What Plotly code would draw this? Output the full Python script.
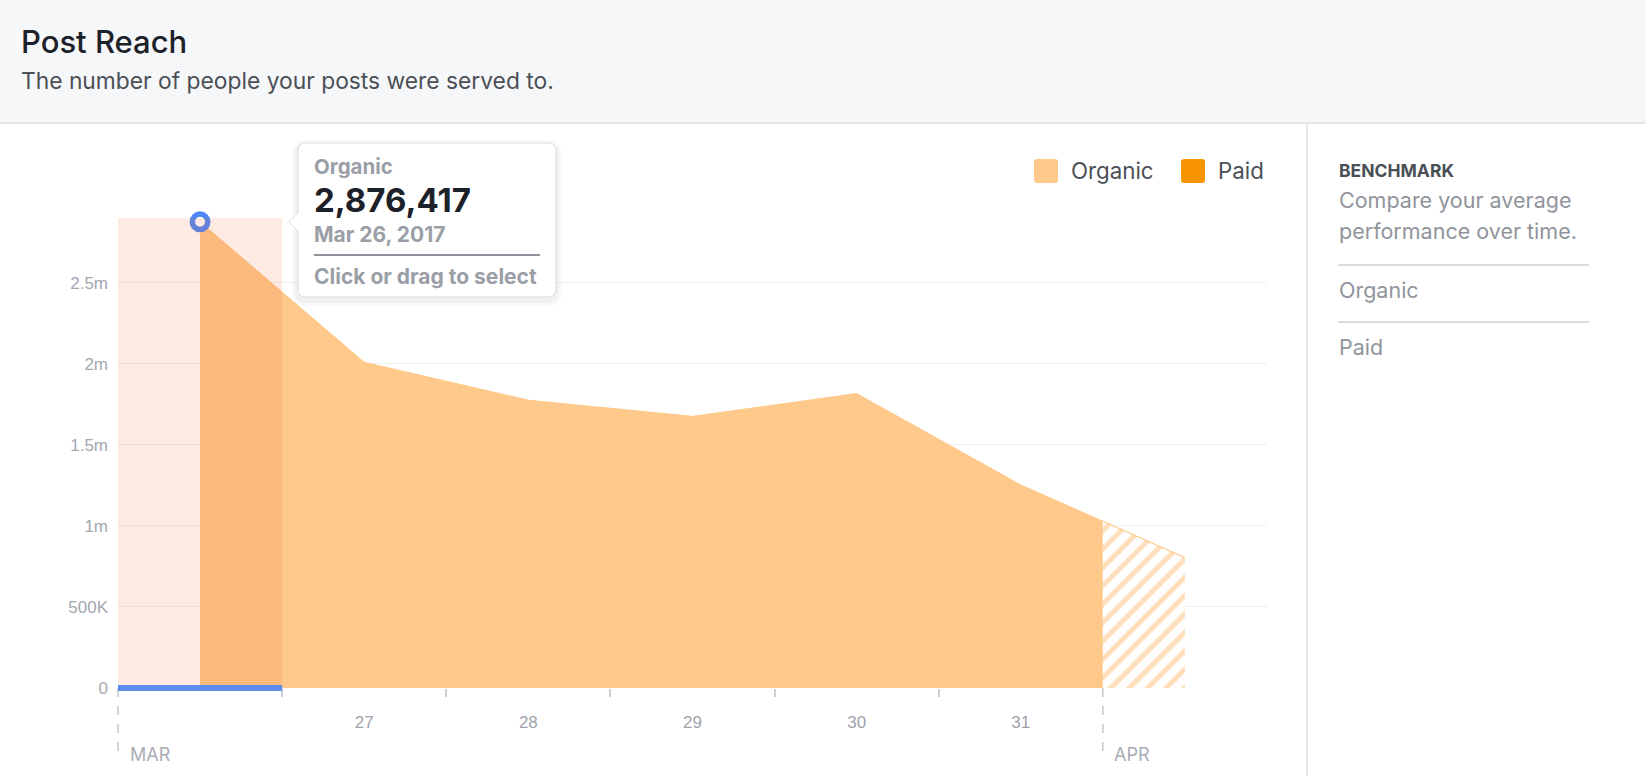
import plotly.graph_objects as go

# data
days = ["2017-03-26 12:00", "2017-03-27 12:00", "2017-03-28 12:00", "2017-03-29 12:00",
        "2017-03-30 12:00", "2017-03-31 12:00", "2017-04-01 12:00"]
organic = [2876417, 2010000, 1776000, 1676000, 1817000, 1253000, 805000]
paid = [0, 0, 0, 0, 0, 0, 0]
series_names = ["Organic", "Paid"]
day_edges = ["2017-03-27", "2017-03-28", "2017-03-29", "2017-03-30", "2017-03-31"]
x_labels = ["27", "28", "29", "30", "31"]
y_ticks = [0, 500000, 1000000, 1500000, 2000000, 2500000]
y_labels = ["0", "500K", "1m", "1.5m", "2m", "2.5m"]

ORGANIC = "#fec98a"
PAID = "#f79400"
BLUE = "#5b8def"
GREY = "#90949c"
DARK = "#4b4f56"
FONT = "Inter"

# page geometry (pixels) and helpers to paper coords
W, H = 1646, 776
PL, PR, PT, PB = 118, 1267, 218, 688


def px(x):
    return (x - PL) / (PR - PL)


def py(y):
    return (PB - y) / (PB - PT)


def rounded(x0, y0, x1, y1, r, arrow=None):
    # rounded box path in paper coords, optional left arrow (tip_x, mid_y, half)
    def p(x, y):
        return "%.5f,%.5f" % (px(x), py(y))
    d = "M%s L%s Q%s %s L%s Q%s %s L%s Q%s %s " % (
        p(x0 + r, y0), p(x1 - r, y0), p(x1, y0), p(x1, y0 + r),
        p(x1, y1 - r), p(x1, y1), p(x1 - r, y1),
        p(x0 + r, y1), p(x0, y1), p(x0, y1 - r))
    if arrow:
        tx, my, h = arrow
        d += "L%s L%s L%s " % (p(x0, my + h), p(tx, my), p(x0, my - h))
    d += "L%s Q%s %s Z" % (p(x0, y0 + r), p(x0, y0), p(x0 + r, y0))
    return d


fig = go.Figure()

# solid area, clipped at the start of April by the first x axis
fig.add_trace(go.Scatter(x=days, y=organic, name=series_names[0], mode="lines",
                         stackgroup="reach", fillcolor=ORGANIC,
                         line=dict(color=ORGANIC, width=1)))
fig.add_trace(go.Scatter(x=days, y=paid, name=series_names[1], mode="lines",
                         stackgroup="reach", fillcolor=PAID,
                         line=dict(color=PAID, width=0)))
# hatched (incomplete) part lives on the second x axis
fig.add_trace(go.Scatter(x=days, y=organic, xaxis="x2", mode="lines", fill="tozeroy",
                         fillcolor="white",
                         fillpattern=dict(shape="/", fgcolor="#fcbf78", bgcolor="white",
                                          size=13, solidity=0.4),
                         line=dict(color=ORGANIC, width=1.2)))
# hovered point
fig.add_trace(go.Scatter(x=[days[0]], y=[organic[0]], mode="markers", cliponaxis=False,
                         marker=dict(size=15.5, color="white",
                                     line=dict(color="#4f86f7", width=5.5))))

shapes = []
# header band
shapes.append(dict(type="rect", xref="paper", yref="paper", x0=px(0), x1=px(W),
                   y0=py(0), y1=py(123), fillcolor="#f6f7f9", line_width=0, layer="below"))
shapes.append(dict(type="line", xref="paper", yref="paper", x0=px(0), x1=px(W),
                   y0=py(123), y1=py(123), line=dict(color="#dddfe2", width=1.5)))
shapes.append(dict(type="line", xref="paper", yref="paper", x0=px(1307), x1=px(1307),
                   y0=py(123), y1=py(H), line=dict(color="#dddfe2", width=1.5)))
# month markers
for xp in (0, 6 / 7):
    shapes.append(dict(type="line", xref="paper", yref="paper", x0=xp, x1=xp,
                       y0=0, y1=py(752), line=dict(color="#c4c7cc", width=1.5, dash="dash")))
# selection
shapes.append(dict(type="rect", xref="x", yref="paper", x0="2017-03-26", x1="2017-03-27",
                   y0=0, y1=1, fillcolor="rgba(238,104,48,0.14)", line_width=0, layer="above"))
shapes.append(dict(type="line", xref="x", yref="paper", x0="2017-03-26", x1="2017-03-27",
                   y0=0, y1=0, line=dict(color=BLUE, width=6), layer="above"))
# tooltip
box = (298, 143, 556, 297)
for w, a in ((12, 0.025), (6, 0.035)):
    shapes.append(dict(type="path", xref="paper", yref="paper",
                       path=rounded(box[0], box[1] + 3, box[2], box[3] + 3, 8),
                       fillcolor="rgba(0,0,0,0)", line=dict(color="rgba(0,0,0,%s)" % a, width=w)))
shapes.append(dict(type="path", xref="paper", yref="paper",
                   path=rounded(*box, 8, arrow=(289, 222, 9)),
                   fillcolor="white", line=dict(color="#dcdde0", width=1)))
shapes.append(dict(type="line", xref="paper", yref="paper", x0=px(314), x1=px(540),
                   y0=py(255), y1=py(255), line=dict(color=GREY, width=2)))
# legend swatches
for x0, col in ((1034, ORGANIC), (1181, PAID)):
    shapes.append(dict(type="path", xref="paper", yref="paper",
                       path=rounded(x0, 159, x0 + 24, 183, 3), fillcolor=col, line_width=0))
# benchmark separators
for yy in (265, 322):
    shapes.append(dict(type="line", xref="paper", yref="paper", x0=px(1338), x1=px(1589),
                       y0=py(yy), y1=py(yy), line=dict(color="#ccd0d5", width=1.5)))

annotations = []


def label(text, x, y, size, color, weight="normal"):
    annotations.append(dict(text=text, x=px(x), y=py(y), xref="paper", yref="paper",
                            xanchor="left", yanchor="middle", showarrow=False,
                            font=dict(family=FONT, size=size, color=color, weight=weight)))


label("Post Reach", 19, 42, 31, "#1d2129", 500)
label("The number of people your posts were served to.", 19, 81, 22.8, DARK)
label(series_names[0], 312, 166, 20.5, "#9a9ea6", "bold")
label("{:,}".format(organic[0]), 312, 200, 33, "#1d2129", "bold")
label("Mar 26, 2017", 312, 234, 21, "#9a9ea6", "bold")
label("Click or drag to select", 312, 276, 21, "#9a9ea6", "bold")
label(series_names[0], 1069, 171, 22.3, DARK)
label(series_names[1], 1216, 171, 22.3, DARK)
label("BENCHMARK", 1337, 170, 17.5, DARK, "bold")
label("Compare your average", 1337, 200, 21.5, GREY)
label("performance over time.", 1337, 231, 21.5, GREY)
label(series_names[0], 1337, 290, 21.5, GREY)
label(series_names[1], 1337, 347, 21.5, GREY)
label("MAR", 128, 754, 18, "#a8acb4")
label("APR", 1112, 754, 18, "#a8acb4")

fig.update_layout(
    width=W, height=H,
    margin=dict(l=PL, r=W - PR, t=PT, b=H - PB),
    paper_bgcolor="white", plot_bgcolor="white",
    showlegend=False, hovermode=False,
    font=dict(family=FONT),
    shapes=shapes, annotations=annotations,
    xaxis=dict(type="date", domain=[0, 6 / 7], range=["2017-03-26", "2017-04-01"],
               tickmode="array", tickvals=days[1:6], ticktext=x_labels, ticks="",
               showgrid=False, zeroline=False, showline=False, ticklabelstandoff=22,
               tickfont=dict(family="Liberation Sans", size=17, color="#9ea2ab"),
               minor=dict(tickmode="array", tickvals=day_edges, ticks="outside",
                          ticklen=8, tickwidth=2, tickcolor="#ccd0d5", showgrid=False)),
    xaxis2=dict(type="date", domain=[6 / 7, 1], range=["2017-04-01", "2017-04-02"],
                anchor="y", showticklabels=False, ticks="", showgrid=False,
                zeroline=False, showline=False),
    yaxis=dict(range=[0, 2900000], tickmode="array", tickvals=y_ticks, ticktext=y_labels,
               gridcolor="#eeeff1", gridwidth=1, zeroline=False, showline=False,
               ticks="", ticklabelstandoff=9,
               tickfont=dict(family="Liberation Sans", size=17, color="#a3a7b0")),
)

fig.write_html("out.html", config={"displayModeBar": False},
               post_script="document.body.style.margin = '0';")
